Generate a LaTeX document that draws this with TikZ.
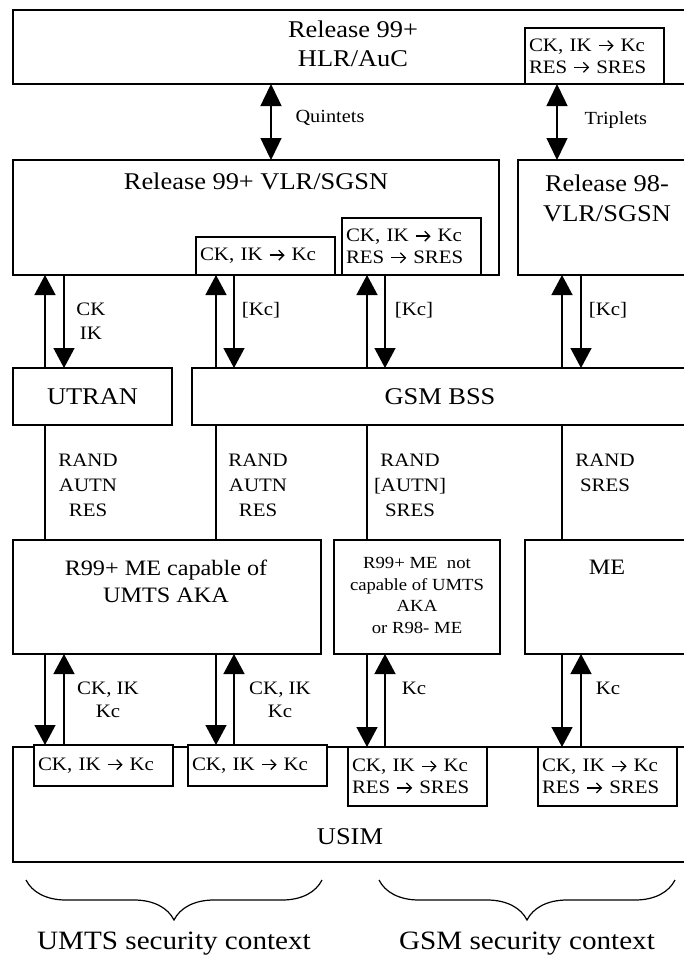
\documentclass[tikz,border=0pt]{standalone}
\usepackage{fontspec}
\setmainfont{Liberation Serif}[FakeStretch=1.1]
\usetikzlibrary{arrows.meta,decorations.pathreplacing}

\newcommand{\toarrow}{\tikz[baseline=-0.3em]\draw[line width=1.3pt, -{Straight Barb[length=5pt,width=10pt]}] (0pt,0pt) -- (15pt,0pt);}
\newcommand{\ckkc}{CK, IK \toarrow{} Kc}
\newcommand{\ressres}{RES \toarrow{} SRES}

\begin{document}
\begin{tikzpicture}[x=1pt,y=-1pt,
	box/.style={draw, line width=1.6pt, inner sep=0pt, outer sep=0pt, anchor=north west},
	keybox/.style={box, fill=white, align=left, inner xsep=4pt, text width=131pt, font=\fontsize{19}{21.7}\selectfont},
	big/.style={font=\fontsize{24}{29}\selectfont, align=center},
	mid/.style={font=\fontsize{22}{27}\selectfont, align=center},
	small/.style={font=\fontsize{17}{21.7}\selectfont, align=center},
	lbl/.style={font=\fontsize{19}{24}\selectfont, align=center},
	arr/.style={line width=1.4pt, -{Triangle[length=20pt,width=21pt]}},
	dblarr/.style={line width=1.4pt, {Triangle[length=22pt,width=21pt]}-{Triangle[length=22pt,width=21pt]}},
	link/.style={line width=1.4pt},
	brace/.style={line width=1.2pt, decorate, decoration={brace, mirror, amplitude=40pt}}
	]
	
	\useasboundingbox (0,0) rectangle (683,958);
	
	% ---- Network side boxes ----
	\node[box, minimum width=675pt, minimum height=74pt] (hlr) at (13,10) {};
	\node[box, minimum width=486pt, minimum height=115pt] (vlr) at (13,160) {};
	\node[box, minimum width=170pt, minimum height=115pt] (rvlr) at (518,160) {};
	\node[box, big, minimum width=159pt, minimum height=57pt] (utran) at (13,368) {UTRAN};
	\node[box, big, minimum width=496pt, minimum height=57pt] (bss) at (192,368) {GSM BSS};
	
	% ---- Terminal side boxes ----
	\node[box, minimum width=308pt, minimum height=114pt] (meaka) at (13,540) {};
	\node[box, minimum width=166pt, minimum height=114pt] (menot) at (334,540) {};
	\node[box, minimum width=163pt, minimum height=114pt] (me) at (525,540) {};
	\node[box, minimum width=675pt, minimum height=115pt] (usim) at (13,747) {};
	
	% ---- Box titles ----
	\node[big] (hlrtext) at (353,43.5) {Release 99+\\HLR/AuC};
	\node[big] (vlrtext) at (256,181) {Release 99+ VLR/SGSN};
	\node[big, font=\fontsize{24}{30}\selectfont] (rvlrtext) at (607,198) {Release 98-\\VLR/SGSN};
	\node[mid] (meakatext) at (166,581.5) {R99+ ME capable of\\UMTS AKA};
	\node[small] (menottext) at (417,595.5) {R99+ ME~ not\\capable of UMTS\\AKA\\or R98- ME};
	\node[mid] (metext) at (607,567) {ME};
	\node[big] (usimtext) at (350,837) {USIM};
	
	% ---- Key conversion boxes ----
	\foreach \name/\x/\y/\h/\txt in {
		khlr/525/28/56/\ckkc\\\ressres,
		kvlra/196/237/38/\ckkc,
		kvlrb/342/218/57/\ckkc\\\ressres,
		kusima/34/745/41/\ckkc,
		kusimb/188/745/41/\ckkc,
		kusimc/348/747/59/\ckkc\\\ressres,
		kusimd/538/747/59/\ckkc\\\ressres
	}
	\node[keybox, minimum height=\h pt] (\name) at (\x,\y) {\txt};
	
	% ---- HLR/AuC <-> VLR/SGSN ----
	\draw[dblarr] (hlr.south -| 271,0) -- (vlr.north -| 271,0);
	\draw[dblarr] (khlr.south -| 557,0) -- (rvlr.north -| 557,0);
	\node[lbl, font=\fontsize{18.5}{22}\selectfont, anchor=west] (quint) at (292,118) {Quintets};
	\node[lbl, font=\fontsize{18.5}{22}\selectfont, anchor=west] (trip) at (581,120) {Triplets};
	
	% ---- VLR/SGSN <-> UTRAN / GSM BSS ----
	\foreach \xa/\xb/\hi/\lo in {45/64/vlr/utran, 216/234/kvlra/bss, 367/385/kvlrb/bss, 562/581/rvlr/bss}
	{
		\draw[arr] (\lo.north -| \xa,0) -- (\hi.south -| \xa,0);
		\draw[arr] (\hi.south -| \xb,0) -- (\lo.north -| \xb,0);
	}
	\node[lbl] (ckik) at (91,321) {CK\\IK};
	\foreach \x/\name in {261/kca, 414/kcb, 608/kcc}
	\node[lbl] (\name) at (\x,310.5) {[Kc]};
	
	% ---- UTRAN / GSM BSS <-> ME ----
	\foreach \x/\hi/\lo in {45/utran/meaka, 216/bss/meaka, 367/bss/menot, 562/bss/me}
	\draw[link] (\hi.south -| \x,0) -- (\lo.north -| \x,0);
	\node[lbl, font=\fontsize{19}{25}\selectfont] (randa) at (88,485) {RAND\\AUTN\\RES};
	\node[lbl, font=\fontsize{19}{25}\selectfont] (randb) at (258,485) {RAND\\AUTN\\RES};
	\node[lbl, font=\fontsize{19}{25}\selectfont] (randc) at (410,485) {RAND\\{[AUTN]}\\SRES};
	\node[lbl, font=\fontsize{19}{25}\selectfont] (randd) at (605,472.5) {RAND\\SRES};
	
	% ---- ME <-> USIM ----
	\foreach \xa/\xb/\hi/\lo in {45/64/meaka/kusima, 216/234/meaka/kusimb, 367/385/menot/kusimc, 562/581/me/kusimd}
	{
		\draw[arr] (\hi.south -| \xa,0) -- (\lo.north -| \xa,0);
		\draw[arr] (\lo.north -| \xb,0) -- (\hi.south -| \xb,0);
	}
	\node[lbl, font=\fontsize{19}{23}\selectfont] (ckkca) at (108,700) {CK, IK\\Kc};
	\node[lbl, font=\fontsize{19}{23}\selectfont] (ckkcb) at (280,700) {CK, IK\\Kc};
	\node[lbl] (kcd) at (414,688) {Kc};
	\node[lbl] (kce) at (608,688) {Kc};
	
	% ---- Security contexts ----
	\draw[brace] (26,880) -- (322,880);
	\draw[brace] (379,880) -- (675,880);
	\node[big, font=\fontsize{26.5}{30}\selectfont] (umts) at (174,944) {UMTS security context};
	\node[big, font=\fontsize{26.5}{30}\selectfont] (gsm) at (527,944) {GSM security context};
	
\end{tikzpicture}
\end{document}
